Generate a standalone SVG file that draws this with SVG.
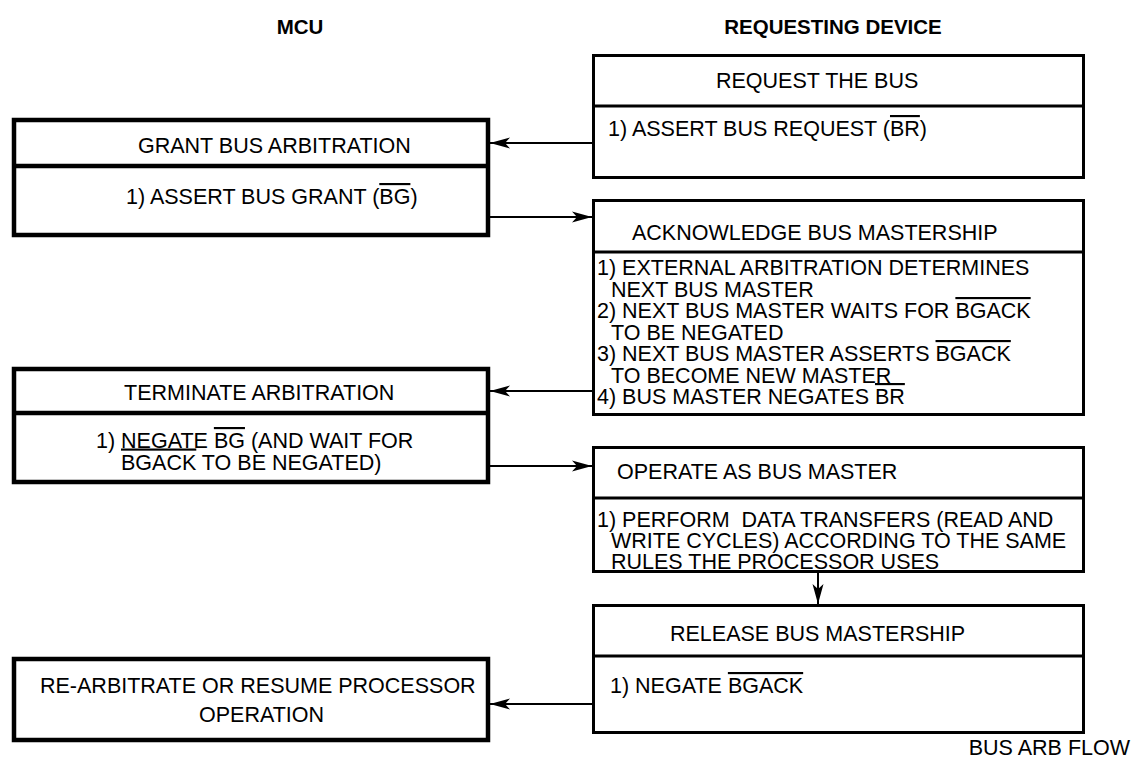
<svg xmlns="http://www.w3.org/2000/svg" width="1132" height="759" viewBox="0 0 1132 759">
<defs>
<marker id="ah" markerUnits="userSpaceOnUse" markerWidth="22" markerHeight="12" refX="20" refY="6" orient="auto">
<path d="M0,0.5 L20,6 L0,11.5 L5,6 Z" fill="#000"/>
</marker>
<style>
text{font-family:"Liberation Sans",Arial,sans-serif;font-size:21.5px;fill:#000}
.hdr{font-weight:bold;font-size:20.5px}
.lb{fill:#fff;stroke:#000;stroke-width:4.5}
.ld{stroke:#000;stroke-width:4.5}
.rb{fill:#fff;stroke:#000;stroke-width:3}
.rd{stroke:#000;stroke-width:3}
.ol{text-decoration:overline}
.conn line{stroke:#000;stroke-width:2;marker-end:url(#ah)}
</style>
</defs>
<rect width="1132" height="759" fill="#fff"/>
<g id="headers">
<text class="hdr" x="300" y="34" text-anchor="middle">MCU</text>
<text class="hdr" x="833" y="34" text-anchor="middle">REQUESTING DEVICE</text>
</g>
<g id="request">
<rect class="rb" x="593.5" y="55.5" width="490" height="122"/>
<line class="rd" x1="593.5" y1="106" x2="1083.5" y2="106"/>
<text x="716" y="88">REQUEST THE BUS</text>
<text x="608" y="136">1) ASSERT BUS REQUEST (<tspan class="ol">BR</tspan>)</text>
</g>
<g id="grant">
<rect class="lb" x="14" y="120" width="474" height="115"/>
<line class="ld" x1="14" y1="166" x2="488" y2="166"/>
<text x="138" y="153">GRANT BUS ARBITRATION</text>
<text x="126" y="204">1) ASSERT BUS GRANT (<tspan class="ol">BG</tspan>)</text>
</g>
<g id="acknowledge">
<rect class="rb" x="593.5" y="200.5" width="490" height="214"/>
<line class="rd" x1="593.5" y1="252" x2="1083.5" y2="252"/>
<text x="632" y="240">ACKNOWLEDGE BUS MASTERSHIP</text>
<text x="597" y="275">1) EXTERNAL ARBITRATION DETERMINES</text>
<text x="611" y="296.5">NEXT BUS MASTER</text>
<text x="597" y="318">2) NEXT BUS MASTER WAITS FOR <tspan class="ol">BGACK</tspan></text>
<text x="611" y="339.5">TO BE NEGATED</text>
<text x="597" y="361">3) NEXT BUS MASTER ASSERTS <tspan class="ol">BGACK</tspan></text>
<text x="611" y="382.5">TO BECOME NEW MASTER</text>
<text x="597" y="404">4) BUS MASTER NEGATES <tspan class="ol">BR</tspan></text>
</g>
<g id="terminate">
<rect class="lb" x="14" y="369" width="474" height="113"/>
<line class="ld" x1="14" y1="413" x2="488" y2="413"/>
<text x="124" y="400">TERMINATE ARBITRATION</text>
<text x="96" y="448">1) NEGATE <tspan class="ol">BG</tspan> (AND WAIT FOR</text>
<text x="121" y="469.5"><tspan class="ol">BGACK</tspan> TO BE NEGATED)</text>
</g>
<g id="operate">
<rect class="rb" x="593.5" y="447.5" width="490" height="124"/>
<line class="rd" x1="593.5" y1="498" x2="1083.5" y2="498"/>
<text x="617" y="479">OPERATE AS BUS MASTER</text>
<text x="597" y="527">1) PERFORM&#160; DATA TRANSFERS (READ AND</text>
<text x="611" y="548">WRITE CYCLES) ACCORDING TO THE SAME</text>
<text x="611" y="569">RULES THE PROCESSOR USES</text>
</g>
<g id="release">
<rect class="rb" x="593.5" y="605.5" width="490" height="127"/>
<line class="rd" x1="593.5" y1="656" x2="1083.5" y2="656"/>
<text x="670" y="641">RELEASE BUS MASTERSHIP</text>
<text x="610" y="693">1) NEGATE <tspan class="ol">BGACK</tspan></text>
</g>
<g id="rearbitrate">
<rect class="lb" x="14" y="659" width="474" height="81"/>
<text x="40" y="693">RE-ARBITRATE OR RESUME PROCESSOR</text>
<text x="199" y="722">OPERATION</text>
</g>
<g id="caption">
<text x="1130" y="755" text-anchor="end">BUS ARB FLOW</text>
</g>
<g class="conn" id="connectors">
<line x1="592" y1="143" x2="490" y2="143"/>
<line x1="490" y1="217" x2="592" y2="217"/>
<line x1="592" y1="391" x2="490" y2="391"/>
<line x1="490" y1="466" x2="592" y2="466"/>
<line x1="818" y1="572" x2="818" y2="604"/>
<line x1="592" y1="704" x2="490" y2="704"/>
</g>
</svg>
